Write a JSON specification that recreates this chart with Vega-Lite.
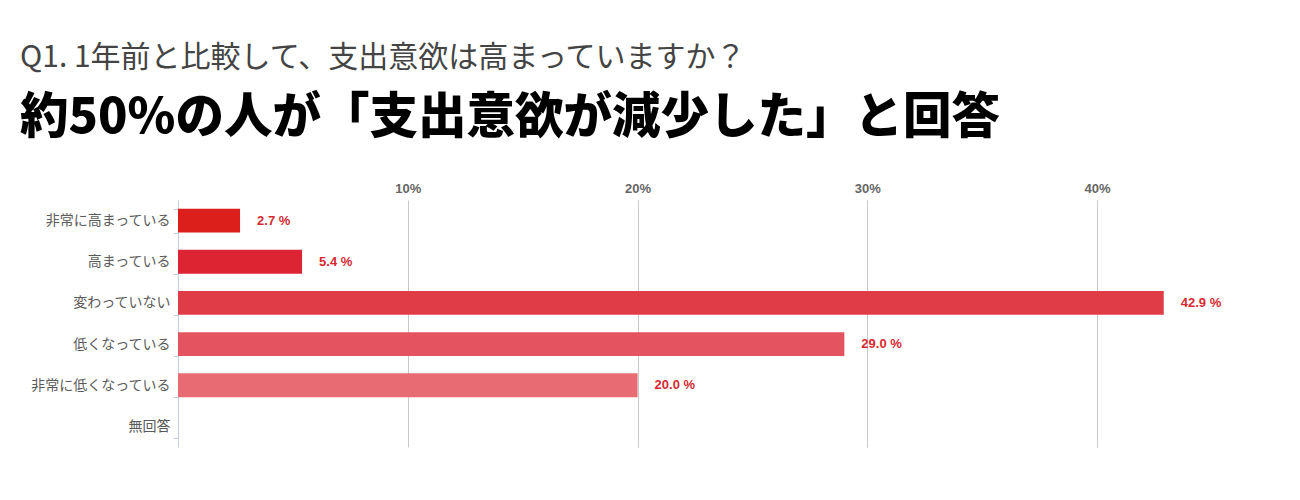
{
  "$schema": "https://vega.github.io/schema/vega-lite/v6.json",
  "autosize": {"type": "none"},
  "width": 1034,
  "height": 247,
  "padding": {"left": 178, "top": 200, "right": 88, "bottom": 53},
  "background": "#ffffff",
  "config": {
    "font": "Liberation Sans, Noto Sans CJK JP, sans-serif",
    "view": {"stroke": null}
  },
  "title": {
    "text": "Q1. 1年前と比較して、支出意欲は高まっていますか？",
    "subtitle": "約50%の人が「支出意欲が減少した」と回答",
    "anchor": "start",
    "frame": "group",
    "dx": -158,
    "offset": 40,
    "font": "Noto Sans CJK JP, sans-serif",
    "fontSize": 30,
    "fontWeight": "normal",
    "color": "#444444",
    "subtitleFont": "Noto Sans CJK JP, sans-serif",
    "subtitleFontSize": 48.5,
    "subtitleFontWeight": 900,
    "subtitleColor": "#000000",
    "subtitlePadding": 22
  },
  "data": {
    "values": [
      {"answer": "非常に高まっている", "pct": 2.7, "label": "2.7 %"},
      {"answer": "高まっている", "pct": 5.4, "label": "5.4 %"},
      {"answer": "変わっていない", "pct": 42.9, "label": "42.9 %"},
      {"answer": "低くなっている", "pct": 29.0, "label": "29.0 %"},
      {"answer": "非常に低くなっている", "pct": 20.0, "label": "20.0 %"},
      {"answer": "無回答", "pct": 0, "label": ""}
    ]
  },
  "encoding": {
    "y": {
      "field": "answer",
      "type": "nominal",
      "sort": null,
      "scale": {"paddingInner": 0.42, "paddingOuter": 0.21},
      "axis": {
        "title": null,
        "domainColor": "#c3cfe0",
        "tickColor": "#c3cfe0",
        "tickSize": 5,
        "labelPadding": 3,
        "labelFontSize": 14,
        "labelColor": "#5a5a5a",
        "labelFont": "Noto Sans CJK JP, sans-serif",
        "tickBand": "extent"
      }
    },
    "x": {
      "field": "pct",
      "type": "quantitative",
      "scale": {"domain": [0, 45], "nice": false},
      "axis": {
        "orient": "top",
        "title": null,
        "values": [10, 20, 30, 40],
        "labelExpr": "datum.value + '%'",
        "grid": true,
        "gridColor": "#c8c8c8",
        "domain": false,
        "ticks": false,
        "labelFontSize": 13,
        "labelFontWeight": "bold",
        "labelColor": "#666666",
        "labelPadding": 5
      }
    }
  },
  "layer": [
    {
      "mark": {"type": "bar"},
      "encoding": {
        "color": {
          "field": "answer",
          "type": "nominal",
          "sort": null,
          "legend": null,
          "scale": {
            "domain": ["非常に高まっている", "高まっている", "変わっていない", "低くなっている", "非常に低くなっている", "無回答"],
            "range": ["#dc1f1a", "#dc2432", "#e03c46", "#e45460", "#e86a73", "#ee8890"]
          }
        }
      }
    },
    {
      "mark": {"type": "text", "align": "left", "dx": 17, "fontSize": 13, "fontWeight": "bold", "color": "#d62a32"},
      "encoding": {"text": {"field": "label"}}
    }
  ]
}
